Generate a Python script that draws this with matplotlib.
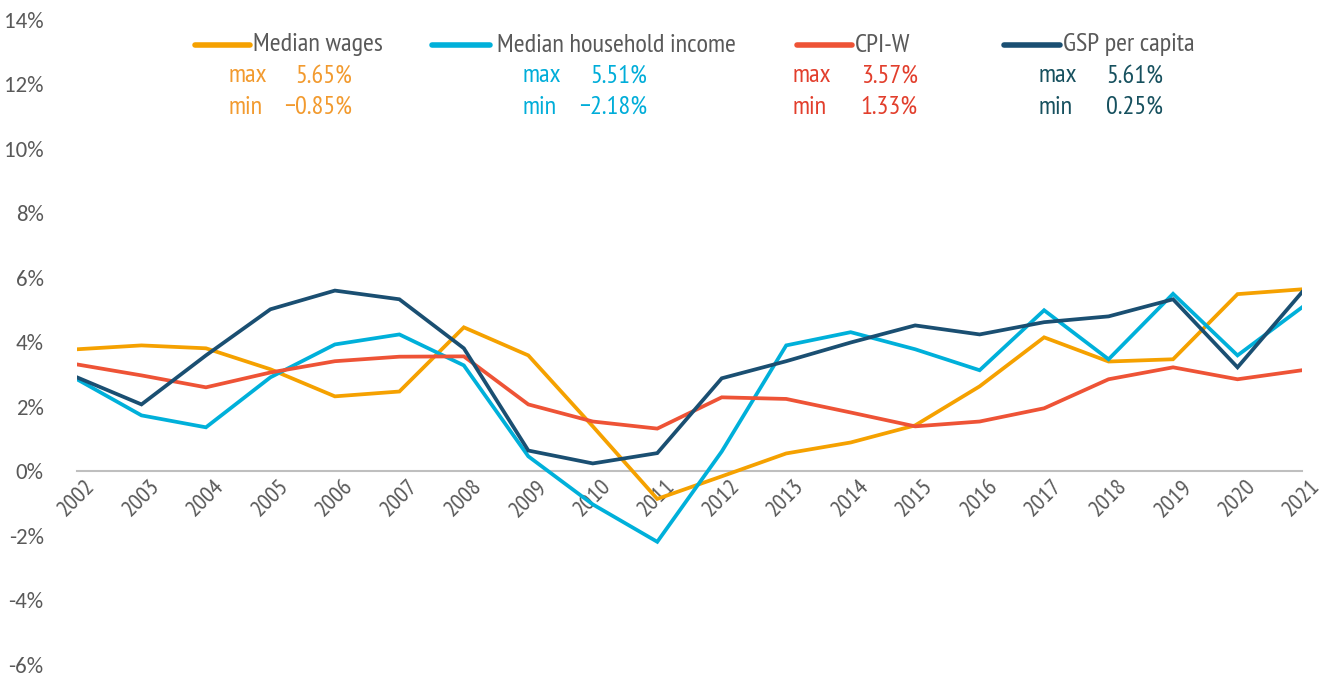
import matplotlib
matplotlib.use("Agg")
import matplotlib.pyplot as plt
from matplotlib.lines import Line2D

years = list(range(2002, 2022))
median_wages = [3.79, 3.91, 3.82, 3.17, 2.33, 2.48, 4.47, 3.60, 1.40, -0.85,
                -0.15, 0.56, 0.90, 1.43, 2.64, 4.16, 3.41, 3.48, 5.50, 5.65]
median_hh_income = [2.86, 1.74, 1.37, 2.92, 3.94, 4.25, 3.29, 0.47, -1.02, -2.18,
                    0.62, 3.91, 4.32, 3.79, 3.14, 5.00, 3.48, 5.51, 3.60, 5.09]
cpi_w = [3.32, 2.98, 2.61, 3.07, 3.42, 3.56, 3.57, 2.08, 1.55, 1.33,
         2.30, 2.25, 1.83, 1.40, 1.55, 1.96, 2.86, 3.23, 2.86, 3.14]
gsp_per_capita = [2.92, 2.08, 3.60, 5.03, 5.61, 5.34, 3.82, 0.65, 0.25, 0.57,
                  2.89, 3.42, 4.00, 4.53, 4.25, 4.63, 4.81, 5.34, 3.23, 5.56]

series_names = ["Median wages", "Median household income", "CPI-W", "GSP per capita"]
series_values = [median_wages, median_hh_income, cpi_w, gsp_per_capita]
line_colors = ["#F5A100", "#00B0DA", "#EE5336", "#1A4F72"]
text_colors = ["#F29A2E", "#00ADD9", "#E23E2C", "#16505E"]
y_ticks = list(range(-6, 15, 2))

NARROW = ["PT Sans Narrow", "DejaVu Sans"]
TICKF = ["Carlito", "PT Sans", "DejaVu Sans"]
plt.rcParams["font.family"] = NARROW
plt.rcParams["axes.unicode_minus"] = False
GRAY = "#595959"

W, H = 1335, 679
fig = plt.figure(figsize=(W / 100, H / 100), dpi=100)

def fx(px):
    return px / W

def fy(py):
    return 1 - py / H

ax = fig.add_axes([fx(77), fy(665), fx(1302) - fx(77), fy(20) - fy(665)])

for vals, col in zip(series_values, line_colors):
    ax.plot(years, vals, color=col, lw=2.7, solid_joinstyle="miter", zorder=3)

for s in ["top", "right", "left"]:
    ax.spines[s].set_visible(False)
ax.spines["bottom"].set_position(("data", 0))
ax.spines["bottom"].set_color("#BFBFBF")
ax.spines["bottom"].set_linewidth(1.5)
ax.spines["bottom"].set_zorder(1)

ax.set_xlim(years[0], years[-1])
ax.set_ylim(y_ticks[0], y_ticks[-1])
ax.set_yticks(y_ticks)
ax.set_yticklabels([f"{t}%" for t in y_ticks], family=TICKF)
ax.set_xticks(years)
ax.set_xticklabels([str(y) for y in years], family=NARROW)

ax.tick_params(axis="y", length=0, pad=24, labelsize=16.5, labelcolor=GRAY)
ax.tick_params(axis="x", length=0, pad=3, labelsize=17, labelcolor=GRAY,
               labelrotation=45)
for lab in ax.get_xticklabels():
    lab.set_ha("center")
    lab.set_va("top")

# Custom legend
line_x = [(195, 250), (432, 490), (797, 852), (1004, 1060)]
label_x = [253, 497, 855, 1063]
stat_x = [228, 522, 793, 1038]
val_right = [352, 647, 918, 1163]

def fmt(v):
    s = f"{abs(v):.2f}%"
    return ("\u2212" + s) if v < 0 else s

FS = 19
for i in range(4):
    fig.add_artist(Line2D([fx(line_x[i][0]), fx(line_x[i][1])], [fy(45), fy(45)],
                          color=line_colors[i], lw=4, solid_capstyle="round"))
    fig.text(fx(label_x[i]), fy(45), series_names[i], color=GRAY, fontsize=FS,
             ha="left", va="center")
    vmax = max(series_values[i])
    vmin = min(series_values[i])
    fig.text(fx(stat_x[i]), fy(76), "max", color=text_colors[i], fontsize=FS,
             ha="left", va="center")
    fig.text(fx(val_right[i]), fy(76), fmt(vmax), color=text_colors[i], fontsize=FS,
             ha="right", va="center")
    fig.text(fx(stat_x[i]), fy(107), "min", color=text_colors[i], fontsize=FS,
             ha="left", va="center")
    fig.text(fx(val_right[i]), fy(107), fmt(vmin), color=text_colors[i], fontsize=FS,
             ha="right", va="center")

fig.savefig("out.png", dpi=100)
